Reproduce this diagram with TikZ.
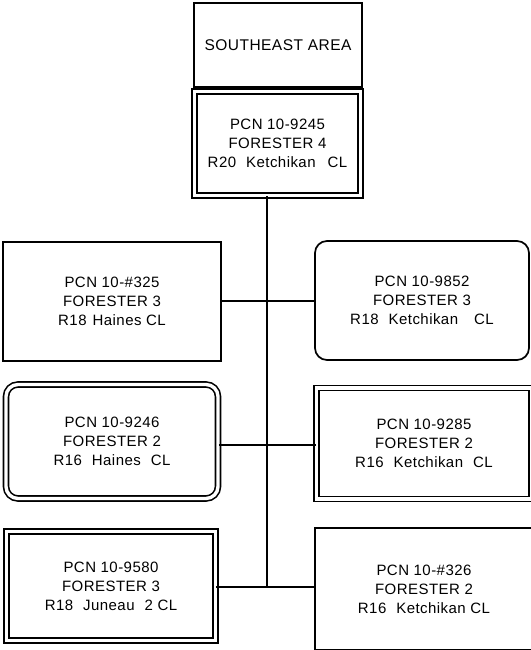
\documentclass[tikz,border=0pt]{standalone}
\usepackage{fontspec}
\setmainfont[LetterSpace=3]{Liberation Sans}
\begin{document}
\begin{tikzpicture}[x=1bp,y=-1bp,
  box/.style={draw,line width=1.7bp,inner sep=0pt,align=center,font=\fontsize{15bp}{19bp}\selectfont},
  dbox/.style={box,double,line width=1.6bp,double distance=3.4bp},
  rbox/.style={box,rounded corners=12bp},
  conn/.style={line width=1.7bp}]
\useasboundingbox (0,0) rectangle (531,650);
\node[box,minimum width=168bp,minimum height=84bp,font=\fontsize{15.5bp}{19bp}\selectfont] (top) at (278,45) {SOUTHEAST AREA};
\node[dbox,minimum width=166bp,minimum height=104bp] (main) at (277.5,143.5) {PCN 10-9245\\FORESTER 4\\R20\hspace{10bp}Ketchikan\hspace{12bp}CL};
\node[box,minimum width=218bp,minimum height=119bp] (l1) at (112,301.5) {PCN 10-\#325\\FORESTER 3\\R18\hspace{6bp}Haines CL};
\node[rbox,minimum width=214bp,minimum height=119bp] (r1) at (422,300.5) {PCN 10-9852\\FORESTER 3\\R18\hspace{10bp}Ketchikan\hspace{16bp}CL};
\node[dbox,rounded corners=12bp,minimum width=212bp,minimum height=114bp] (l2) at (112,441.5) {PCN 10-9246\\FORESTER 2\\R16\hspace{10bp}Haines\hspace{10bp}CL};
\node[dbox,minimum width=215bp,minimum height=111bp] (r2) at (424,443.5) {PCN 10-9285\\FORESTER 2\\R16\hspace{10bp}Ketchikan\hspace{10bp}CL};
\node[dbox,minimum width=209bp,minimum height=109bp] (l3) at (111,586) {PCN 10-9580\\FORESTER 3\\R18\hspace{10bp}Juneau\hspace{10bp}2 CL};
\node[box,minimum width=218bp,minimum height=122bp] (r3) at (424,589) {PCN 10-\#326\\FORESTER 2\\R16\hspace{10bp}Ketchikan CL};
\coordinate (trunk) at (267,0);
\coordinate (c1) at (0,301);
\coordinate (c2) at (0,445);
\coordinate (c3) at (0,587);
\draw[conn] (trunk |- main.south) -- (trunk |- c3) -- (r3.west |- c3);
\draw[conn] (l3.east |- c3) -- (trunk |- c3);
\draw[conn] (l1.east |- c1) -- (r1.west |- c1);
\draw[conn] (l2.east |- c2) -- (r2.west |- c2);
\end{tikzpicture}
\end{document}
